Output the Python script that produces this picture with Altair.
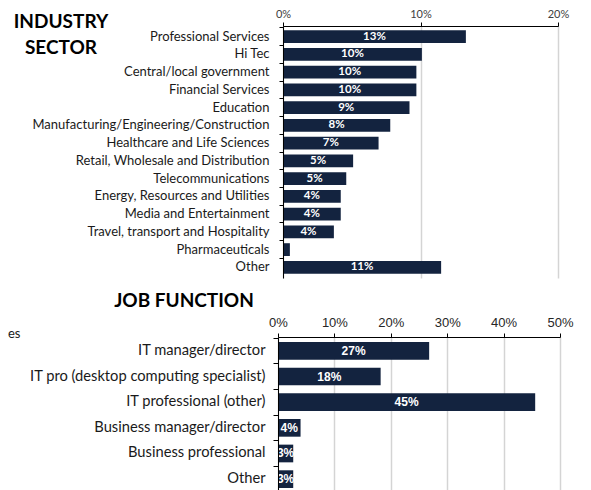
import altair as alt
import pandas as pd

# ---------------- data ----------------
sectors = [
    "Professional Services", "Hi Tec", "Central/local government",
    "Financial Services", "Education", "Manufacturing/Engineering/Construction",
    "Healthcare and Life Sciences", "Retail, Wholesale and Distribution",
    "Telecommunications", "Energy, Resources and Utilities",
    "Media and Entertainment", "Travel, transport and Hospitality",
    "Pharmaceuticals", "Other",
]
sector_pct = [13.3, 10.1, 9.7, 9.7, 9.2, 7.8, 6.95, 5.1, 4.6, 4.2, 4.2, 3.7, 0.5, 11.5]
sector_labels = ["13%", "10%", "10%", "10%", "9%", "8%", "7%", "5%", "5%", "4%", "4%", "4%", "", "11%"]
sector_ticks = [0, 10, 20]

functions = [
    "IT manager/director", "IT pro (desktop computing specialist)",
    "IT professional (other)", "Business manager/director",
    "Business professional", "Other",
]
function_pct = [26.8, 18.2, 45.6, 4.0, 2.7, 2.7]
function_labels = ["27%", "18%", "45%", "4%", "3%", "3%"]
function_ticks = [0, 10, 20, 30, 40, 50]

NAVY = "#13233f"
GRID = "#d4d4d4"

# ---------------- top: industry sector ----------------
df1 = pd.DataFrame({"cat": sectors, "pct": sector_pct, "lab": sector_labels})
df1["mid"] = df1["pct"] / 2

x1 = alt.X(
    "pct:Q",
    scale=alt.Scale(domain=[0, 20], range=[5, 280], nice=False),
    axis=alt.Axis(
        orient="top", values=sector_ticks, labelExpr="datum.value + '%'", title=None,
        domainColor="#000", tickColor="#000", tickSize=4, labelPadding=3,
        labelFont="Lato", labelFontSize=11, labelColor="#404040", labelFlush=False,
        gridColor=GRID, gridWidth=1.5,
    ),
)
y1 = alt.Y(
    "cat:N", sort=sectors,
    scale=alt.Scale(paddingInner=0, paddingOuter=0.1),
    axis=alt.Axis(
        title=None, offset=-5, bandPosition=0, tickSize=4, labelPadding=10,
        labelFont="Lato", labelFontSize=13, labelColor="#1a1a1a",
        domainColor="#000", tickColor="#000", labelLimit=400, grid=False, zindex=1,
    ),
)

bars1 = alt.Chart(df1).mark_bar(color=NAVY, height={"band": 0.72}).encode(x=x1, y=y1)
text1 = alt.Chart(df1).mark_text(
    color="white", font="Lato", fontWeight="bold", fontSize=11.5, baseline="middle"
).encode(x=alt.X("mid:Q"), y=alt.Y("cat:N", sort=sectors), text="lab:N")

one = alt.Data(values=[{}])
t_ind = alt.Chart(one).mark_text(
    text="INDUSTRY", font="Lato", fontWeight="bold", fontSize=19, color="#000",
    align="center", baseline="middle",
).encode(x=alt.value(-217), y=alt.value(-4))
t_sec = alt.Chart(one).mark_text(
    text="SECTOR", font="Lato", fontWeight="bold", fontSize=19, color="#000",
    align="center", baseline="middle",
).encode(x=alt.value(-217), y=alt.value(22))

top = alt.layer(bars1, text1, t_ind, t_sec).properties(width=280, height=252)

# ---------------- bottom: job function ----------------
df2 = pd.DataFrame({"cat": functions, "pct": function_pct, "lab": function_labels})
df2["mid"] = df2["pct"] / 2

x2 = alt.X(
    "pct:Q",
    scale=alt.Scale(domain=[0, 50], nice=False),
    axis=alt.Axis(
        orient="top", values=function_ticks, labelExpr="datum.value + '%'", title=None,
        domainColor="#000", tickColor="#000", tickSize=4, labelPadding=4,
        labelFont="Liberation Sans", labelFontSize=13, labelColor="#262626",
        labelFlush=False, gridColor=GRID, gridWidth=1.5,
    ),
)
y2 = alt.Y(
    "cat:N", sort=functions,
    scale=alt.Scale(paddingInner=0, paddingOuter=0.04),
    axis=alt.Axis(
        title=None, bandPosition=0, tickSize=5, labelPadding=8,
        labelFont="Lato", labelFontSize=14.7, labelColor="#1a1a1a",
        domainColor="#000", tickColor="#000", labelLimit=400, grid=False, zindex=1,
    ),
)

bars2 = alt.Chart(df2).mark_bar(color=NAVY, height={"band": 0.69}).encode(x=x2, y=y2)
text2 = alt.Chart(df2).mark_text(
    color="white", font="Liberation Sans", fontWeight="bold", fontSize=12, baseline="middle"
).encode(x=alt.X("mid:Q"), y=alt.Y("cat:N", sort=functions), text="lab:N")

t_job = alt.Chart(one).mark_text(
    text="JOB FUNCTION", font="Lato", fontWeight="bold", fontSize=19, color="#000",
    align="center", baseline="middle",
).encode(x=alt.value(-94), y=alt.value(-36))
t_es = alt.Chart(one).mark_text(
    text="es", font="Lato", fontSize=13, color="#1a1a1a", align="left", baseline="middle",
).encode(x=alt.value(-270), y=alt.value(-3))

bottom = alt.layer(bars2, text2, t_job, t_es).properties(width=282, height=156)

chart = alt.vconcat(top, bottom, spacing=14).properties(
    padding={"left": 0, "top": 0, "right": 5, "bottom": 0}
).configure_view(stroke=None)

chart.save("out.html", embed_options={"renderer": "svg", "actions": False})
